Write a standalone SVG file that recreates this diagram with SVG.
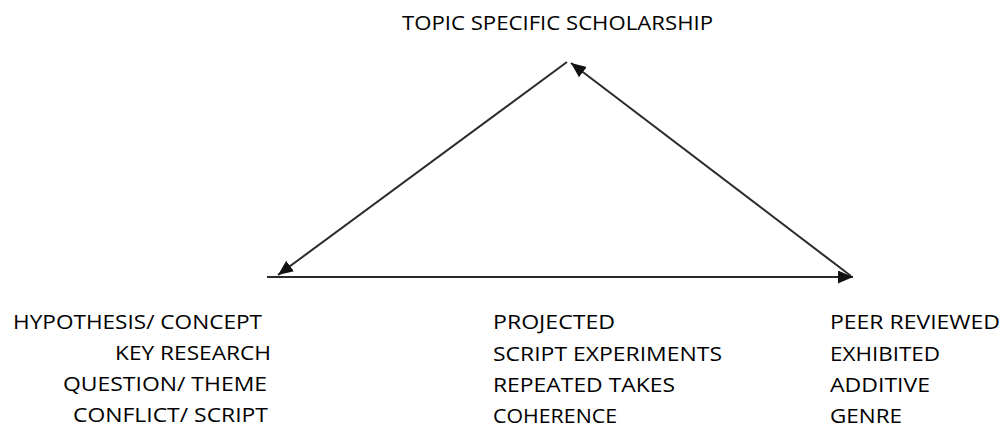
<svg xmlns="http://www.w3.org/2000/svg" width="1005" height="430" viewBox="0 0 1005 430">
<defs>
<style>
text{font-family:"Open Sans","Liberation Sans",sans-serif;font-size:19.5px;fill:#000;}
.edge{stroke:#2a2a2a;stroke-width:2;fill:none;marker-end:url(#arr);}
</style>
<marker id="arr" markerUnits="userSpaceOnUse" markerWidth="16" markerHeight="13" refX="15" refY="6.5" orient="auto">
<path d="M0,0 L15,6.5 L0,13 z" fill="#111"/>
</marker>
</defs>
<rect width="1005" height="430" fill="#fff"/>
<g id="connectors">
<line class="edge" x1="567" y1="62" x2="278" y2="275"/>
<line class="edge" x1="851" y1="276" x2="571" y2="63"/>
<line class="edge" x1="267" y1="277" x2="853" y2="277"/>
</g>
<g id="top">
<text x="402" y="30" textLength="311" lengthAdjust="spacingAndGlyphs">TOPIC SPECIFIC SCHOLARSHIP</text>
</g>
<g id="left">
<text x="13" y="329" textLength="249" lengthAdjust="spacingAndGlyphs">HYPOTHESIS/ CONCEPT</text>
<text x="115" y="360" textLength="156" lengthAdjust="spacingAndGlyphs">KEY RESEARCH</text>
<text x="63" y="391" textLength="204" lengthAdjust="spacingAndGlyphs">QUESTION/ THEME</text>
<text x="73" y="422" textLength="195" lengthAdjust="spacingAndGlyphs">CONFLICT/ SCRIPT</text>
</g>
<g id="middle">
<text x="493" y="329" textLength="122" lengthAdjust="spacingAndGlyphs">PROJECTED</text>
<text x="493" y="361" textLength="229" lengthAdjust="spacingAndGlyphs">SCRIPT EXPERIMENTS</text>
<text x="493" y="392" textLength="182" lengthAdjust="spacingAndGlyphs">REPEATED TAKES</text>
<text x="493" y="423" textLength="124" lengthAdjust="spacingAndGlyphs">COHERENCE</text>
</g>
<g id="right">
<text x="830" y="329" textLength="170" lengthAdjust="spacingAndGlyphs">PEER REVIEWED</text>
<text x="830" y="361" textLength="110" lengthAdjust="spacingAndGlyphs">EXHIBITED</text>
<text x="830" y="392" textLength="100" lengthAdjust="spacingAndGlyphs">ADDITIVE</text>
<text x="830" y="423" textLength="72" lengthAdjust="spacingAndGlyphs">GENRE</text>
</g>
</svg>
